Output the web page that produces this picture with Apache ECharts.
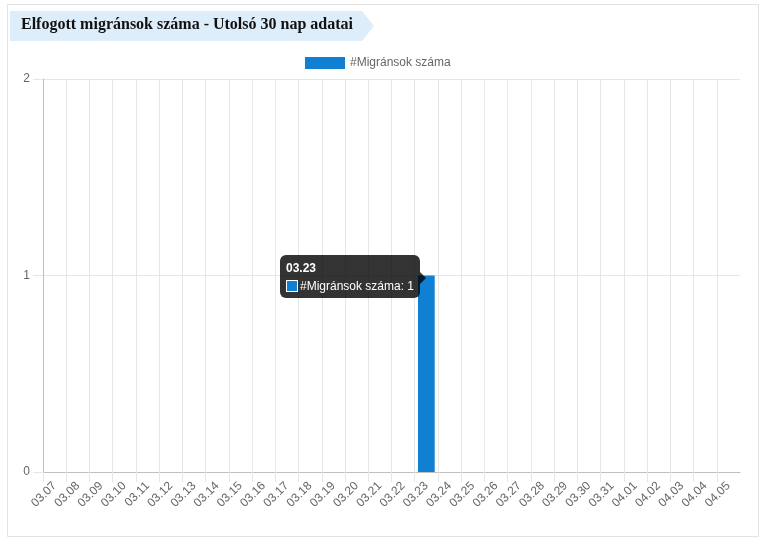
<!DOCTYPE html>
<html>
<head>
<meta charset="utf-8">
<script src="https://cdn.jsdelivr.net/npm/echarts@6/dist/echarts.min.js"></script>
<style>
  html, body { margin: 0; padding: 0; background: #fff; }
  #chart { width: 765px; height: 545px; }
</style>
</head>
<body>
<div id="chart"></div>
<script>
// napok (utolsó 30 nap)
var days = ['03.07', '03.08', '03.09', '03.10', '03.11', '03.12', '03.13', '03.14', '03.15', '03.16',
            '03.17', '03.18', '03.19', '03.20', '03.21', '03.22', '03.23', '03.24', '03.25', '03.26',
            '03.27', '03.28', '03.29', '03.30', '03.31', '04.01', '04.02', '04.03', '04.04', '04.05'];
// elfogott migránsok száma naponta
var counts = [0, 0, 0, 0, 0, 0, 0, 0, 0, 0,
              0, 0, 0, 0, 0, 0, 1, 0, 0, 0,
              0, 0, 0, 0, 0, 0, 0, 0, 0, 0];
var seriesName = '#Migránsok száma';
var titleText = 'Elfogott migránsok száma - Utolsó 30 nap adatai';
var yTicks = { min: 0, max: 2, interval: 1 };
var tipIndex = 16;

var barColor = '#0f80d2';
var font = "'Liberation Sans', Arial, Helvetica, sans-serif";

var chart = echarts.init(document.getElementById('chart'));

chart.setOption({
    animation: false,
    textStyle: { fontFamily: font },
    graphic: [
        {   // kártya keret
            type: 'rect',
            shape: { x: 7.5, y: 4.5, width: 751, height: 532 },
            style: { fill: 'none', stroke: '#e3e3e3', lineWidth: 1 },
            z: -10
        },
        {   // cím szalag
            type: 'polygon',
            shape: { points: [[10, 11], [362, 11], [374, 26], [362, 41], [10, 41]] },
            style: { fill: '#deedfa' },
            z: -5
        },
        {
            type: 'text',
            left: 21,
            top: 17,
            style: {
                text: titleText,
                fill: '#111',
                font: "bold 16px 'Liberation Serif', 'Times New Roman', serif"
            }
        }
    ],
    legend: {
        top: 57,
        left: 305,
        icon: 'rect',
        itemWidth: 40,
        itemHeight: 12,
        itemGap: 10,
        padding: 0,
        textStyle: { color: '#666', fontSize: 12, fontFamily: font },
        data: [seriesName]
    },
    tooltip: {
        trigger: 'item',
        triggerOn: 'none',
        alwaysShowContent: true,
        backgroundColor: 'rgba(0,0,0,0.8)',
        borderWidth: 0,
        padding: [5, 6, 4, 6],
        extraCssText: 'border-radius:6px;box-shadow:none;overflow:visible;',
        transitionDuration: 0,
        position: function () {
            return [280, 255];
        },
        formatter: function (p) {
            return '<div style="position:relative;font-family:' + font.replace(/'/g, '') + ';font-size:12px;color:#fff;line-height:16px;">' +
                '<div style="font-weight:bold;margin-bottom:2px;">' + p.name + '</div>' +
                '<div><span style="display:inline-block;width:10px;height:10px;background:' + barColor +
                ';border:1px solid #fff;vertical-align:-2px;margin-right:2px;"></span>' +
                p.seriesName + ': ' + p.value + '</div>' +
                '<div style="position:absolute;right:-12px;top:12px;width:0;height:0;border-top:6px solid transparent;' +
                'border-bottom:6px solid transparent;border-left:6px solid rgba(0,0,0,0.8);"></div>' +
                '</div>';
        }
    },
    grid: { left: 43, right: 25, top: 79, bottom: 73 },
    xAxis: [
        {   // oszlopok és feliratok
            type: 'category',
            data: days,
            boundaryGap: true,
            axisLine: { show: false },
            axisTick: { show: false },
            splitLine: { show: false },
            axisLabel: {
                interval: 0,
                rotate: 45,
                margin: 12,
                color: '#666',
                fontSize: 12,
                fontFamily: font
            }
        },
        {   // rácsvonalak és osztásjelek
            type: 'category',
            data: days.concat(['']),
            boundaryGap: false,
            position: 'bottom',
            axisLine: { show: true, lineStyle: { color: '#bfbfbf' } },
            axisTick: {
                show: true, length: 10,
                interval: function (i) { return i < days.length; },
                lineStyle: { color: '#e6e6e6' }
            },
            axisLabel: { show: false },
            splitLine: {
                show: true,
                interval: function (i) { return i > 0 && i < days.length; },
                lineStyle: { color: '#e6e6e6' }
            }
        }
    ],
    yAxis: {
        type: 'value',
        min: yTicks.min,
        max: yTicks.max,
        interval: yTicks.interval,
        axisLine: { show: true, lineStyle: { color: '#bfbfbf' } },
        axisTick: { show: true, length: 10, lineStyle: { color: '#e6e6e6' } },
        axisLabel: { color: '#666', fontSize: 12, margin: 13, fontFamily: font },
        splitLine: { show: true, lineStyle: { color: '#e6e6e6' } }
    },
    series: [
        {
            name: seriesName,
            type: 'bar',
            xAxisIndex: 0,
            data: counts,
            barWidth: '72%',
            itemStyle: { color: barColor }
        }
    ]
});

chart.dispatchAction({ type: 'showTip', seriesIndex: 0, dataIndex: tipIndex });
</script>
</body>
</html>
